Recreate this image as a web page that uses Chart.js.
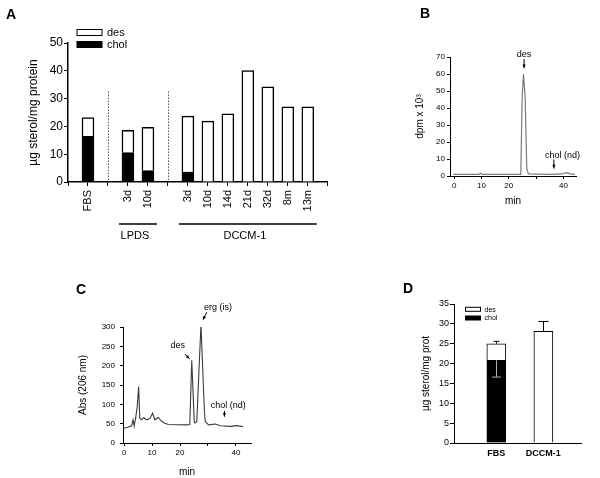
<!DOCTYPE html>
<html>
<head>
<meta charset="utf-8">
<script src="https://cdn.jsdelivr.net/npm/chart.js@4.4.0/dist/chart.umd.min.js"></script>
<style>
  html, body { margin: 0; padding: 0; background: #fff; }
  #figure { position: relative; width: 600px; height: 478px; overflow: hidden; font-family: 'Liberation Sans', Arial, sans-serif; }
  #figure canvas { position: absolute; }
  .panel-letter { position: absolute; font-weight: bold; font-size: 14px; line-height: 14px; color: #000; }
</style>
</head>
<body>
<div id="figure">
  <canvas id="chartA" width="345" height="250" style="left:0px;top:0px"></canvas>
  <canvas id="chartB" width="200" height="215" style="left:400px;top:0px"></canvas>
  <canvas id="chartC" width="200" height="198" style="left:60px;top:280px"></canvas>
  <canvas id="chartD" width="210" height="198" style="left:390px;top:280px"></canvas>
  <div class="panel-letter" style="left:6px;top:7px">A</div>
  <div class="panel-letter" style="left:420px;top:6px">B</div>
  <div class="panel-letter" style="left:76px;top:282px">C</div>
  <div class="panel-letter" style="left:403px;top:281px">D</div>
</div>
<script>
// ---- panel A: sterol content per culture condition
const aCategories = ['FBS', '3d', '10d', '3d', '10d', '14d', '21d', '32d', '8m', '13m'];
const aGroups = ['FBS', 'LPDS', 'LPDS', 'DCCM-1', 'DCCM-1', 'DCCM-1', 'DCCM-1', 'DCCM-1', 'DCCM-1', 'DCCM-1'];
const aChol = [16.4, 10.6, 4.1, 3.6, 0, 0, 0, 0, 0, 0];
const aDes = [6.8, 8.0, 15.6, 20.1, 21.9, 24.5, 40.1, 34.2, 27.0, 27.0];
const aYTicks = [0, 10, 20, 30, 40, 50];

// ---- panel B: radio trace
const bTime = [-0.3, 9.0, 9.6, 10.2, 20, 24.4, 24.9, 25.4, 26.0, 26.6, 27.2, 35, 39.5, 41, 42.5, 44.2];
const bDpm = [1.0, 1.0, 1.6, 1.0, 1.0, 1.0, 46, 60, 46, 4, 1.2, 1.0, 1.2, 2.0, 1.3, 1.0];
const bXTicks = [0, 10, 20, 30, 40];
const bXTickLabels = ['0', '10', '20', '', '40'];
const bYTicks = [0, 10, 20, 30, 40, 50, 60, 70];

// ---- panel C: UV trace
const cTime = [-0.3, 1.0, 2.7, 3.2, 3.6, 4.2, 4.7, 5.2, 5.6, 6.2, 7.1, 8.0, 9.2, 10.2, 11.0, 12.2, 13.4, 14.6, 15.8, 22.4, 23.5, 24.2, 25.1, 25.4, 26.0, 27.5, 28.7, 29.0, 30.2, 32.6, 34.4, 38.0, 40.5, 42.6];
const cAbs = [38, 40, 44.5, 60, 44, 68, 95, 146, 64, 60, 66, 60, 63, 77, 60, 66, 56, 51, 48, 47, 48, 214, 55, 52, 55, 307, 86, 56, 47, 49, 44.5, 43, 45, 42];
const cXTicks = [0, 10, 20, 30, 40];
const cXTickLabels = ['0', '10', '20', '', '40'];
const cYTicks = [0, 50, 100, 150, 200, 250, 300];

// ---- panel D: mean sterol content
const dCategories = ['FBS', 'DCCM-1'];
const dChol = [20.8, 0];
const dDes = [4.2, 28.1];
const dCholErrLow = [4.2, null];
const dTotalErrHigh = [0.6, 2.5];
const dYTicks = [0, 5, 10, 15, 20, 25, 30, 35];

Chart.defaults.font.family = "'Liberation Sans', Arial, sans-serif";
Chart.defaults.color = '#000';

// insert an empty slot wherever the group changes, plus one at each end
const aLabels = [''], aCholSlots = [null], aDesSlots = [null], aSeparators = [], aSpans = {};
aCategories.forEach((c, i) => {
  if (i > 0 && aGroups[i] !== aGroups[i - 1]) {
    aSeparators.push(aLabels.length);
    aLabels.push(''); aCholSlots.push(null); aDesSlots.push(null);
  }
  if (aGroups[i] !== c) {
    const s = aSpans[aGroups[i]] || (aSpans[aGroups[i]] = { first: aLabels.length, last: aLabels.length });
    s.last = aLabels.length;
  }
  aLabels.push(c); aCholSlots.push(aChol[i]); aDesSlots.push(aDes[i]);
});
aLabels.push(''); aCholSlots.push(null); aDesSlots.push(null);

function axis(tickLen, width) {
  return {
    grid: { display: true, drawOnChartArea: false, drawTicks: true, tickLength: tickLen, color: '#000', lineWidth: 1, offset: false },
    border: { display: true, color: '#000', width: width }
  };
}
function fixedTicks(list) {
  return function (scale) { scale.ticks = list.map(v => ({ value: v })); };
}
const base = {
  responsive: false, animation: false, devicePixelRatio: 1,
  events: []
};

function arrow(ctx, x1, y1, x2, y2) {
  const ang = Math.atan2(y2 - y1, x2 - x1), head = 4;
  ctx.beginPath(); ctx.moveTo(x1, y1); ctx.lineTo(x2, y2); ctx.stroke();
  ctx.beginPath();
  ctx.moveTo(x2, y2);
  ctx.lineTo(x2 - head * Math.cos(ang - 0.4), y2 - head * Math.sin(ang - 0.4));
  ctx.lineTo(x2 - head * Math.cos(ang + 0.4), y2 - head * Math.sin(ang + 0.4));
  ctx.closePath(); ctx.fill();
}

// arrows + labels placed in data coordinates
const notesPlugin = {
  id: 'notes',
  afterDraw(chart, args, opts) {
    const { ctx, scales: { x, y } } = chart;
    ctx.save();
    ctx.strokeStyle = '#000'; ctx.fillStyle = '#000'; ctx.lineWidth = 1;
    ctx.font = opts.font;
    ctx.textAlign = 'center'; ctx.textBaseline = 'middle';
    (opts.items || []).forEach(n => {
      ctx.fillText(n.text, x.getPixelForValue(n.tx), y.getPixelForValue(n.ty));
      arrow(ctx, x.getPixelForValue(n.from[0]), y.getPixelForValue(n.from[1]),
        x.getPixelForValue(n.to[0]), y.getPixelForValue(n.to[1]));
    });
    ctx.restore();
  }
};

// boxed legend drawn inside the plot frame
const boxLegend = {
  id: 'boxLegend',
  afterDraw(chart, args, opts) {
    if (!opts.items) return;
    const { ctx, chartArea } = chart;
    ctx.save();
    ctx.font = opts.font; ctx.textBaseline = 'middle'; ctx.textAlign = 'left';
    opts.items.forEach((it, i) => {
      const bx = chartArea.left + opts.dx, by = chartArea.top + opts.dy + i * opts.gap;
      ctx.fillStyle = it.fill; ctx.fillRect(bx, by, opts.w, opts.h);
      ctx.strokeStyle = '#000'; ctx.lineWidth = 1; ctx.strokeRect(bx, by, opts.w, opts.h);
      ctx.fillStyle = '#000'; ctx.fillText(it.text, bx + opts.w + opts.textGap, by + opts.h / 2 + 0.5);
    });
    ctx.restore();
  }
};

// panel A: dotted separators and group brackets under the axis
const groupPlugin = {
  id: 'groups',
  afterDraw(chart) {
    const { ctx, chartArea, scales: { x, y } } = chart;
    const step = x.getPixelForValue(1) - x.getPixelForValue(0);
    ctx.save();
    ctx.strokeStyle = '#000'; ctx.lineWidth = 1;
    ctx.setLineDash([1, 2]);
    aSeparators.forEach(i => {
      const px = Math.round(x.getPixelForValue(i)) + 0.5;
      ctx.beginPath(); ctx.moveTo(px, y.getPixelForValue(32.5)); ctx.lineTo(px, chartArea.bottom); ctx.stroke();
    });
    ctx.setLineDash([]);
    ctx.lineWidth = 1.5;
    ctx.font = '11px ' + Chart.defaults.font.family;
    ctx.textAlign = 'center'; ctx.textBaseline = 'middle'; ctx.fillStyle = '#000';
    Object.keys(aSpans).forEach(g => {
      const s = aSpans[g];
      const x1 = x.getPixelForValue(s.first) - 0.45 * step, x2 = x.getPixelForValue(s.last) + 0.45 * step;
      const ly = chartArea.bottom + 42;
      ctx.beginPath(); ctx.moveTo(x1, ly); ctx.lineTo(x2, ly); ctx.stroke();
      ctx.fillText(g, (x1 + x2) / 2 - 3, ly + 12);
    });
    ctx.restore();
  }
};

// panel D: one-sided error bars
const errPlugin = {
  id: 'errs',
  afterDatasetsDraw(chart) {
    const { ctx, scales: { x, y } } = chart;
    ctx.save(); ctx.lineWidth = 1;
    function bar(px, v1, v2, cap, color) {
      const y1 = y.getPixelForValue(v1), y2 = y.getPixelForValue(v2);
      ctx.strokeStyle = color;
      ctx.beginPath();
      ctx.moveTo(px, y1); ctx.lineTo(px, y2);
      ctx.moveTo(px - cap / 2, y2); ctx.lineTo(px + cap / 2, y2);
      ctx.stroke();
    }
    dCategories.forEach((c, i) => {
      const px = Math.round(x.getPixelForValue(i + 1)) + 0.5;
      const total = dChol[i] + dDes[i];
      if (dTotalErrHigh[i] != null) bar(px, total, total + dTotalErrHigh[i], i === 0 ? 6 : 10, '#000');
      if (dCholErrLow[i] != null) bar(px, dChol[i], dChol[i] - dCholErrLow[i], 9, '#b0b0b0');
    });
    ctx.restore();
  }
};

new Chart(document.getElementById('chartA'), {
  type: 'bar',
  data: {
    labels: aLabels,
    datasets: [
      { label: 'chol', data: aCholSlots, backgroundColor: '#000', borderColor: '#000', borderWidth: 1.5, barThickness: 12 },
      { label: 'des', data: aDesSlots, backgroundColor: '#fff', borderColor: '#000', borderWidth: 1.5, barThickness: 12 }
    ]
  },
  options: {
    ...base,
    layout: { padding: { left: 0, top: 43, right: 11, bottom: 0 } },
    plugins: {
      legend: { display: false }, tooltip: { enabled: false },
      boxLegend: { items: [{ text: 'des', fill: '#fff' }, { text: 'chol', fill: '#000' }], dx: 9, dy: -13.5, gap: 12, w: 25, h: 6, textGap: 5, font: '11px ' + Chart.defaults.font.family }
    },
    scales: {
      x: {
        stacked: true, offset: false,
        afterFit: s => { s.height = 68; },
        ticks: { autoSkip: false, minRotation: 90, maxRotation: 90, padding: 4, font: { size: 11 } },
        ...axis(4, 1.5)
      },
      y: {
        stacked: true, min: 0, max: 50,
        afterFit: s => { s.width = 68; },
        afterBuildTicks: fixedTicks(aYTicks),
        ticks: { padding: 1, font: { size: 12 } },
        title: { display: true, text: 'µg sterol/mg protein', font: { size: 12 }, padding: { top: 26, bottom: 0 } },
        ...axis(4, 1.5)
      }
    }
  },
  plugins: [groupPlugin, boxLegend]
});

new Chart(document.getElementById('chartB'), {
  type: 'line',
  data: {
    datasets: [{
      data: bTime.map((t, i) => ({ x: t, y: bDpm[i] })),
      borderColor: '#7a7a7a', borderWidth: 1.2, pointRadius: 0, tension: 0, fill: false
    }]
  },
  options: {
    ...base,
    layout: { padding: { left: 0, top: 57, right: 24, bottom: 0 } },
    plugins: {
      legend: { display: false }, tooltip: { enabled: false },
      notes: {
        font: '9px ' + Chart.defaults.font.family,
        items: [
          { text: 'des', tx: 25.6, ty: 71.4, from: [25.6, 68.8], to: [25.6, 63.4] },
          { text: 'chol (nd)', tx: 39.7, ty: 11.8, from: [36.5, 9.7], to: [36.5, 4.4] }
        ]
      }
    },
    scales: {
      x: {
        type: 'linear', min: -1.5, max: 44.6,
        afterFit: s => { s.height = 39; },
        afterBuildTicks: fixedTicks(bXTicks),
        ticks: { padding: 2, font: { size: 8 }, callback: (v, i) => bXTickLabels[i] },
        title: { display: true, text: 'min', font: { size: 10 }, padding: { top: 0, bottom: 8 } },
        ...axis(3, 1)
      },
      y: {
        min: 0, max: 70,
        afterFit: s => { s.width = 50; },
        afterBuildTicks: fixedTicks(bYTicks),
        ticks: { padding: 2, font: { size: 8 } },
        title: { display: true, text: 'dpm x 10³', font: { size: 10 }, padding: { top: 14, bottom: 0 } },
        ...axis(3, 1)
      }
    }
  },
  plugins: [notesPlugin]
});

new Chart(document.getElementById('chartC'), {
  type: 'line',
  data: {
    datasets: [{
      data: cTime.map((t, i) => ({ x: t, y: cAbs[i] })),
      borderColor: '#3a3a3a', borderWidth: 1.1, pointRadius: 0, tension: 0, fill: false
    }]
  },
  options: {
    ...base,
    layout: { padding: { left: 0, top: 47, right: 9, bottom: 0 } },
    plugins: {
      legend: { display: false }, tooltip: { enabled: false },
      notes: {
        font: '9px ' + Chart.defaults.font.family,
        items: [
          { text: 'des', tx: 19.2, ty: 253, from: [21.8, 230], to: [23.4, 218] },
          { text: 'erg (is)', tx: 33.6, ty: 351, from: [29.6, 338], to: [28.2, 319] },
          { text: 'chol (nd)', tx: 37.3, ty: 96, from: [35.9, 83], to: [35.9, 68] }
        ]
      }
    },
    scales: {
      x: {
        type: 'linear', min: -0.4, max: 45.4,
        afterFit: s => { s.height = 35; },
        afterBuildTicks: fixedTicks(cXTicks),
        ticks: { padding: 2, font: { size: 8 }, callback: (v, i) => cXTickLabels[i] },
        title: { display: true, text: 'min', font: { size: 10 }, padding: { top: 0, bottom: 0 } },
        ...axis(3, 1)
      },
      y: {
        min: 0, max: 300,
        afterFit: s => { s.width = 63; },
        afterBuildTicks: fixedTicks(cYTicks),
        ticks: { padding: 5, font: { size: 8 } },
        title: { display: true, text: 'Abs (206 nm)', font: { size: 10 }, padding: { top: 17, bottom: 0 } },
        ...axis(3, 1)
      }
    }
  },
  plugins: [notesPlugin]
});

new Chart(document.getElementById('chartD'), {
  type: 'bar',
  data: {
    datasets: [
      { label: 'chol', data: dChol.map((v, i) => ({ x: i + 1, y: v })), backgroundColor: '#000', borderColor: '#000', borderWidth: 1, barThickness: 19 },
      { label: 'des', data: dDes.map((v, i) => ({ x: i + 1, y: v })), backgroundColor: '#fff', borderColor: '#000', borderWidth: 1, barThickness: 19 }
    ]
  },
  options: {
    ...base,
    layout: { padding: { left: 0, top: 24, right: 19, bottom: 0 } },
    plugins: {
      legend: { display: false }, tooltip: { enabled: false },
      boxLegend: { items: [{ text: 'des', fill: '#fff' }, { text: 'chol', fill: '#000' }], dx: 11.5, dy: 3.3, gap: 8.7, w: 15, h: 4, textGap: 4, font: '7px ' + Chart.defaults.font.family }
    },
    scales: {
      x: {
        type: 'linear', stacked: true, offset: false, min: 0.1, max: 2.8,
        afterFit: s => { s.height = 35; },
        afterBuildTicks: fixedTicks([1, 2]),
        ticks: { padding: 5, font: { size: 9, weight: 'bold' }, callback: (v, i) => dCategories[i] },
        grid: { display: true, drawOnChartArea: false, drawTicks: false, color: '#000', offset: false },
        border: { display: true, color: '#000', width: 1 }
      },
      y: {
        stacked: true, min: 0, max: 35,
        afterFit: s => { s.width = 64; },
        afterBuildTicks: fixedTicks(dYTicks),
        ticks: { padding: 1, font: { size: 9 } },
        title: { display: true, text: 'µg sterol/mg prot', font: { size: 10 }, padding: { top: 30, bottom: 0 } },
        ...axis(4, 1)
      }
    }
  },
  plugins: [errPlugin, boxLegend]
});
</script>
</body>
</html>
